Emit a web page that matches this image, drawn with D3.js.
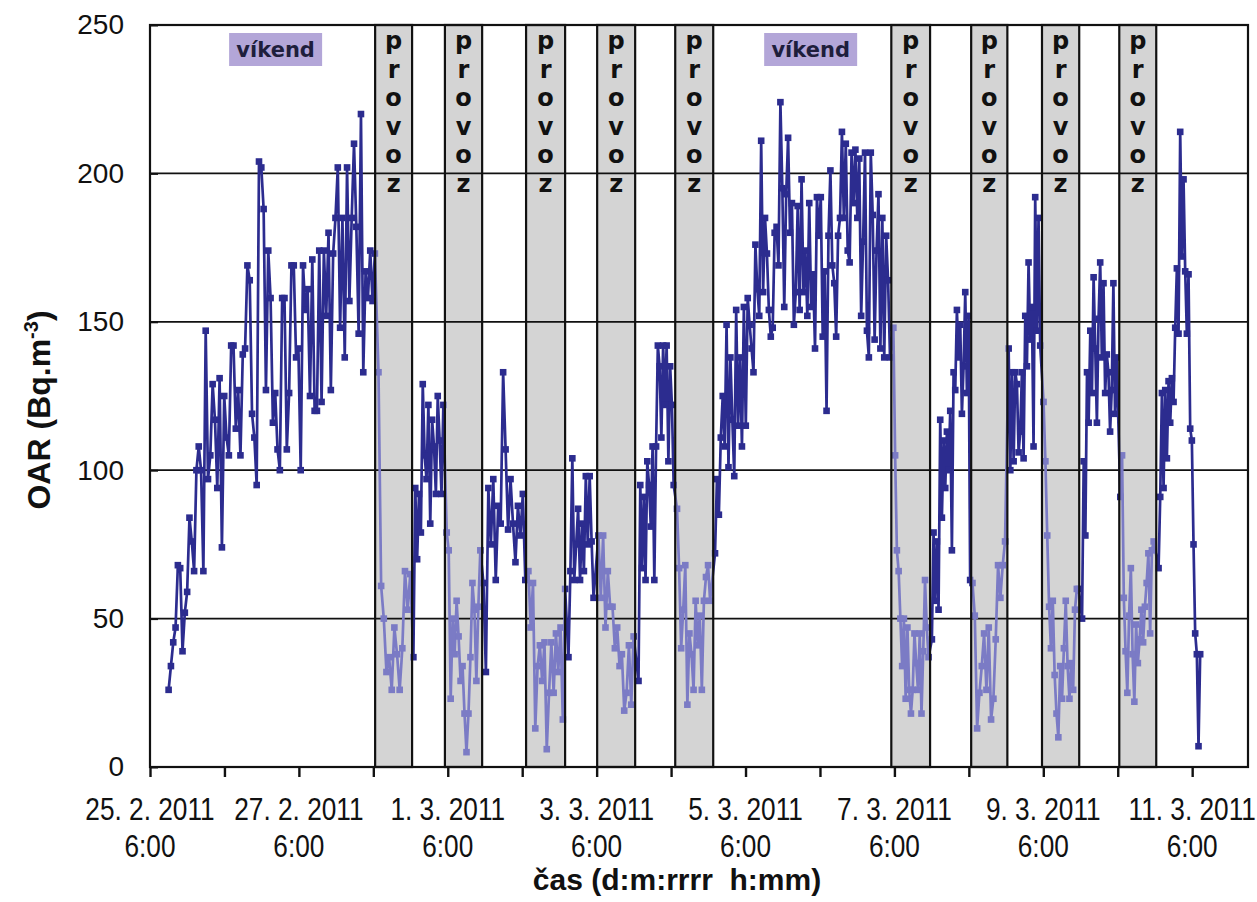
<!DOCTYPE html>
<html>
<head>
<meta charset="utf-8">
<script src="https://cdn.jsdelivr.net/npm/d3@7"></script>
<style>
body { margin: 0; background: #fff; }
svg { display: block; }
</style>
</head>
<body>
<div id="chart"></div>
<script>
const parse = d3.timeParse("%Y-%m-%dT%H:%M")

// Data: measured OAR segments (values evenly spaced between start and end time)
const segStart = ["2011-02-25T12:00", "2011-02-28T07:40", "2011-02-28T18:55", "2011-03-01T05:40", "2011-03-01T17:30",
    "2011-03-02T08:00", "2011-03-02T20:55", "2011-03-03T06:35", "2011-03-03T19:30", "2011-03-04T07:55",
    "2011-03-04T20:10", "2011-03-07T05:40", "2011-03-07T18:05", "2011-03-08T06:25", "2011-03-08T18:50",
    "2011-03-09T06:05", "2011-03-09T18:30", "2011-03-10T06:50", "2011-03-10T19:10"]
const segEnd = ["2011-02-28T06:30", "2011-02-28T17:55", "2011-03-01T04:35", "2011-03-01T16:30", "2011-03-02T07:00",
    "2011-03-02T19:50", "2011-03-03T05:00", "2011-03-03T17:55", "2011-03-04T06:50", "2011-03-04T18:35",
    "2011-03-07T04:35", "2011-03-07T17:00", "2011-03-08T05:55", "2011-03-08T17:40", "2011-03-09T05:00",
    "2011-03-09T17:25", "2011-03-10T05:40", "2011-03-10T17:35", "2011-03-11T08:35"]
const segValues = [
    [26,34,42,47,68,67,39,52,59,84,76,66,100,108,100,66,147,97,105,129,117,94,131,74,125,111,105,142,142,114,127,105,139,141,169,164,119,111,95,204,202,188,127,174,158,116,126,107,100,158,158,107,126,169,169,138,141,100,169,154,161,125,171,120,120,174,123,174,152,180,127,173,185,202,148,185,138,202,157,185,210,182,146,220,133,167,158,174,157,173],
    [133,61,50,32,37,26,47,38,26,40,66,53,65],
    [37,94,70,92,79,129,105,97,122,82,117,108,92,125,110,92,122],
    [79,73,23,50,38,56,44,29,34,18,5,18,37,62,53,29,54,73],
    [62,32,94,75,97,63,88,82,133,107,80,97,82,69,88,78,92,63],
    [66,47,62,13,34,41,29,42,6,25,42,25,45,32,47,16,60],
    [37,66,104,63,75,87,63,82,66,98,75,98,76,57],
    [78,57,78,47,66,54,54,40,47,34,38,19,25,41,21,44],
    [29,95,67,91,63,103,95,81,108,63,108,142,135,111,142,122,142,103,135,122,95],
    [87,67,40,53,68,21,45,38,26,56,41,51,26,56,64,68,56],
    [72,97,85,111,125,108,149,101,138,117,98,154,115,138,108,155,115,158,149,141,133,176,161,152,211,160,185,173,154,145,148,180,182,169,224,195,155,193,212,180,190,149,160,189,154,198,160,174,152,190,155,166,141,192,179,192,145,167,120,179,201,169,163,145,179,185,214,185,210,174,170,207,190,208,185,205,152,177,207,147,138,207,186,144,174,193,141,185,138,179,164,138],
    [148,105,73,66,50,34,50,23,47,26,18,26,45,35,26,45,18,39,63,47,37],
    [43,79,56,76,53,117,84,110,94,113,100,120,73,133,127,154,138,149,119,135,160,126,152],
    [63,62,51,13,25,34,45,26,47,16,23,43,68,57,68,76],
    [141,100,133,103,133,129,106,113,133,104,152,135,170,144,155,108,192,147,185,142],
    [123,103,78,54,40,56,31,18,10,34,23,40,56,34,23,35,26,53,60,60],
    [50,103,78,133,116,147,126,165,141,116,151,170,138,163,126,139,133,113,127,163,119,138],
    [91,105,57,39,25,51,67,38,22,48,35,43,53,42,54,62,72,45,73,76],
    [67,91,126,94,127,104,130,116,131,123,148,168,146,214,172,198,167,146,166,114,110,75,45,38,7,38]
]

// Provoz (working hours) bands
const bandStart = ["2011-02-28T06:35", "2011-03-01T05:05", "2011-03-02T07:15", "2011-03-03T06:10", "2011-03-04T07:20",
    "2011-03-07T05:00", "2011-03-08T06:45", "2011-03-09T05:35", "2011-03-10T06:30"]
const bandEnd = ["2011-02-28T18:30", "2011-03-01T17:05", "2011-03-02T19:50", "2011-03-03T18:25", "2011-03-04T19:35",
    "2011-03-07T17:30", "2011-03-08T18:25", "2011-03-09T17:35", "2011-03-10T18:25"]
const bandLetters = ["p", "r", "o", "v", "o", "z"]
const weekendAt = ["2011-02-26T22:30", "2011-03-06T03:00"]

// Axes
const yTicks = [0, 50, 100, 150, 200, 250]
const dayTicks = ["2011-02-25T06:00", "2011-02-26T06:00", "2011-02-27T06:00", "2011-02-28T06:00", "2011-03-01T06:00",
    "2011-03-02T06:00", "2011-03-03T06:00", "2011-03-04T06:00", "2011-03-05T06:00", "2011-03-06T06:00",
    "2011-03-07T06:00", "2011-03-08T06:00", "2011-03-09T06:00", "2011-03-10T06:00", "2011-03-11T06:00"]
const labelTicks = ["2011-02-25T06:00", "2011-02-27T06:00", "2011-03-01T06:00", "2011-03-03T06:00",
    "2011-03-05T06:00", "2011-03-07T06:00", "2011-03-09T06:00", "2011-03-11T06:00"]
const xDomain = ["2011-02-25T06:00", "2011-03-12T00:00"]

// ----------------------------------------------------------

const width = 1257
const height = 902
const margins = { top: 25, bottom: 135, left: 150, right: 9 }
const innerW = width - margins.left - margins.right
const innerH = height - margins.top - margins.bottom

const darkBlue = "#2c2c8f"
const lightBlue = "#7b7bc5"

const svg = d3.select("#chart").append("svg").attr("width", width).attr("height", height)
    .style("font-family", "'Liberation Sans', Arial, sans-serif")
const g = svg.append("g").attr("transform", `translate(${margins.left},${margins.top})`)

const x = d3.scaleTime().domain(xDomain.map(parse)).range([0, innerW])
const y = d3.scaleLinear().domain([0, 250]).range([innerH, 0])

// points
const points = []
segValues.forEach((vals, i) => {
    const t0 = parse(segStart[i]).getTime()
    const t1 = parse(segEnd[i]).getTime()
    const step = (t1 - t0) / (vals.length - 1)
    vals.forEach((v, j) => points.push({ t: new Date(t0 + j * step), v: v }))
})

const bands = bandStart.map((s, i) => ({ s: parse(s), e: parse(bandEnd[i]) }))

// clip paths: inside bands / outside bands
const defs = svg.append("defs")
defs.append("clipPath").attr("id", "inBands").selectAll("rect").data(bands).join("rect")
    .attr("x", d => x(d.s)).attr("width", d => x(d.e) - x(d.s))
    .attr("y", -10).attr("height", innerH + 20)
const gaps = []
let prev = 0
bands.forEach(b => { gaps.push([prev, x(b.s)]); prev = x(b.e) })
gaps.push([prev, innerW])
defs.append("clipPath").attr("id", "outBands").selectAll("rect").data(gaps).join("rect")
    .attr("x", d => d[0]).attr("width", d => d[1] - d[0])
    .attr("y", -10).attr("height", innerH + 20)

// band fills
g.append("g").selectAll("rect").data(bands).join("rect")
    .attr("x", d => x(d.s)).attr("width", d => x(d.e) - x(d.s))
    .attr("y", 0).attr("height", innerH)
    .attr("fill", "#d4d4d4")

// gridlines
g.append("g").selectAll("line").data(yTicks.filter(d => d > 0 && d < 250)).join("line")
    .attr("x1", 0).attr("x2", innerW)
    .attr("y1", d => y(d)).attr("y2", d => y(d))
    .attr("stroke", "#111").attr("stroke-width", 1.8)

// data series
const line = d3.line().x(d => x(d.t)).y(d => y(d.v))
function drawSeries(clipId, color) {
    const s = g.append("g").attr("clip-path", `url(#${clipId})`)
    s.append("path").datum(points).attr("d", line)
        .attr("fill", "none").attr("stroke", color).attr("stroke-width", 2.7).attr("stroke-linejoin", "round")
    s.selectAll("rect").data(points).join("rect")
        .attr("x", d => x(d.t) - 3.3).attr("y", d => y(d.v) - 3.3)
        .attr("width", 6.6).attr("height", 6.6).attr("fill", color)
}
drawSeries("outBands", darkBlue)
drawSeries("inBands", lightBlue)

// band borders
g.append("g").selectAll("rect").data(bands).join("rect")
    .attr("x", d => x(d.s)).attr("width", d => x(d.e) - x(d.s))
    .attr("y", 0).attr("height", innerH)
    .attr("fill", "none").attr("stroke", "#111").attr("stroke-width", 2.2)

// provoz letters
const bandText = g.append("g").attr("font-family", "'DejaVu Sans', Verdana, sans-serif")
    .attr("font-weight", "bold").attr("font-size", 24).attr("fill", "#111").attr("text-anchor", "middle")
bands.forEach(b => {
    bandText.append("g").selectAll("text").data(bandLetters).join("text")
        .attr("x", x(b.s) + (x(b.e) - x(b.s)) / 2)
        .attr("y", (d, i) => 24 + i * 28.6)
        .text(d => d)
})

// vikend labels
const wk = g.append("g").selectAll("g").data(weekendAt.map(parse)).join("g")
    .attr("transform", d => `translate(${x(d)},25)`)
wk.append("rect").attr("x", -46.5).attr("y", -17).attr("width", 93).attr("height", 33).attr("fill", "#b3a6d8")
wk.append("text").attr("text-anchor", "middle").attr("y", 7)
    .attr("font-family", "'DejaVu Sans', Verdana, sans-serif").attr("font-weight", "bold")
    .attr("font-size", 21).attr("fill", "#1e1e3c").text("víkend")

// plot frame
g.append("rect").attr("width", innerW).attr("height", innerH)
    .attr("fill", "none").attr("stroke", "#111").attr("stroke-width", 2.2)

// y axis
const yAxis = d3.axisLeft(y).tickValues(yTicks).tickSize(-8).tickPadding(26)
const gy = g.append("g").call(yAxis)
gy.select(".domain").remove()
gy.selectAll("line").attr("stroke", "#111").attr("stroke-width", 2)
gy.selectAll("text").attr("font-size", 28).attr("fill", "#111")
    .attr("font-family", "'Liberation Sans', Arial, sans-serif")

// x axis
const xAxis = d3.axisBottom(x).tickValues(dayTicks.map(parse)).tickSize(10).tickFormat(() => "")
const gx = g.append("g").attr("transform", `translate(0,${innerH})`).call(xAxis)
gx.select(".domain").remove()
gx.selectAll("line").attr("stroke", "#111").attr("stroke-width", 2.4)

// x tick labels: narrow look, squeezed horizontally
const fmtDate = d3.timeFormat("%-d. %-m. %Y")
const fmtTime = d3.timeFormat("%-H:%M")
const xl = g.append("g").attr("font-family", "'Liberation Sans', Arial, sans-serif")
    .attr("font-size", 32).attr("fill", "#111").attr("text-anchor", "middle")
    .selectAll("text").data(labelTicks.map(parse)).join("text")
    .attr("transform", d => `translate(${x(d)},0) scale(0.82,1)`)
xl.append("tspan").attr("x", 0).attr("y", innerH + 53).text(d => fmtDate(d))
xl.append("tspan").attr("x", 0).attr("y", innerH + 90).text(d => fmtTime(d))

// axis titles
svg.append("text").attr("x", 677).attr("y", 890)
    .attr("text-anchor", "middle").attr("font-weight", "bold").attr("font-size", 30).attr("fill", "#111")
    .style("white-space", "pre").text("čas (d:m:rrrr  h:mm)")

const yt = svg.append("text").attr("transform", "translate(50,410) rotate(-90)")
    .attr("text-anchor", "middle").attr("font-weight", "bold").attr("font-size", 32).attr("fill", "#111")
yt.append("tspan").text("OAR (Bq.m")
yt.append("tspan").attr("dy", -12).attr("font-size", 20).text("-3")
yt.append("tspan").attr("dy", 12).text(")")
</script>
</body>
</html>
